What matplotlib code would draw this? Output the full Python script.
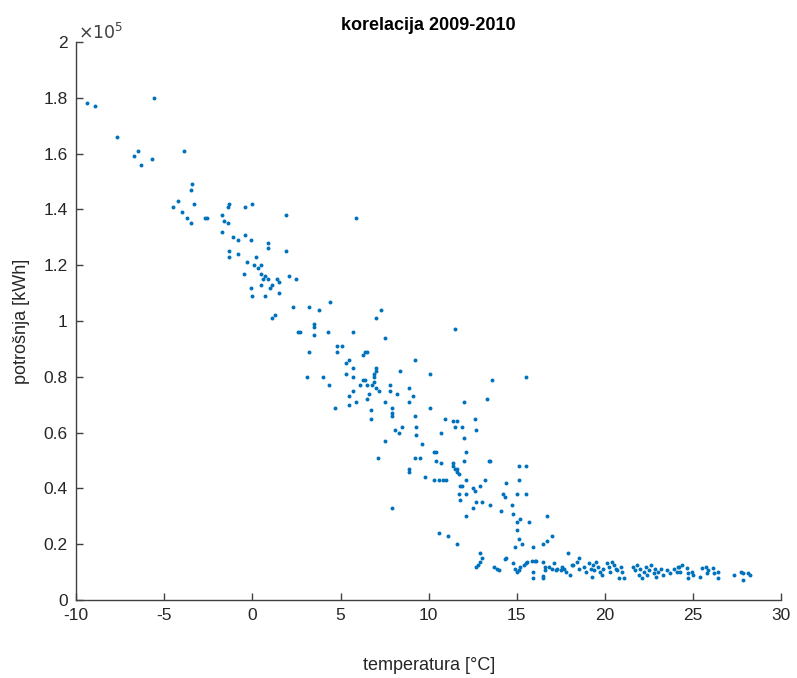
import matplotlib
matplotlib.use("Agg")
import matplotlib.pyplot as plt
from matplotlib.ticker import FuncFormatter, MultipleLocator

# temperature [°C]
temp_cold = [-9.4, -8.9, -5.6, -7.7, -6.5, -6.7, -6.3, -5.7, -3.9,
             -4.5, -4.2, -4.0, -3.7, -3.5, -3.5, -3.4, -3.3, -2.7, -2.6,
             -1.7, -1.6, -1.4, -1.4, -1.3, -0.4, 0.0, 1.9, 5.9,
             -1.7, -1.1, -0.8, -0.4, -0.1, 0.9, 0.9, -1.3, -1.3, -0.8, 0.2, 1.9,
             -0.3, 0.1, 0.3, 0.5, -0.5, 0.5, 0.6, 0.7, 0.9, 2.1, 2.5, 1.5, 1.4, 1.1, 1.0,
             -0.1, 0.5, 1.5, 0.0, 0.7]
cons_cold = [1.78, 1.77, 1.80, 1.66, 1.61, 1.59, 1.56, 1.58, 1.61,
             1.41, 1.43, 1.39, 1.37, 1.35, 1.47, 1.49, 1.42, 1.37, 1.37,
             1.38, 1.36, 1.35, 1.41, 1.42, 1.41, 1.42, 1.38, 1.37,
             1.32, 1.30, 1.29, 1.31, 1.29, 1.28, 1.26, 1.25, 1.23, 1.24, 1.23, 1.25,
             1.21, 1.20, 1.19, 1.20, 1.17, 1.17, 1.15, 1.16, 1.15, 1.16, 1.15, 1.14, 1.15, 1.13, 1.12,
             1.12, 1.13, 1.10, 1.09, 1.09]

temp_mid = [2.3, 3.2, 3.8, 4.4, 1.3, 1.1, 3.5, 3.5, 2.6, 2.7, 3.5, 4.3, 5.7, 7.3, 7.0, 7.5,
            3.2, 4.8, 5.1, 4.8, 6.3, 6.4, 6.5, 5.3, 5.5, 5.7, 5.3, 3.1, 4.0, 5.7, 6.3, 6.4,
            6.9, 7.0, 7.0, 8.4, 9.2, 11.5,
            4.35, 6.9, 6.9, 6.8, 7.0, 6.1, 5.7, 6.5, 6.6, 7.2, 7.8, 7.8, 8.2, 10.1, 8.9, 9.1,
            8.9, 13.6, 15.5,
            5.5, 5.5, 5.9, 6.5, 7.5, 4.7, 6.7, 6.7, 7.9, 7.9, 7.9, 10.1, 12.0, 13.3, 9.2,
            10.9, 11.4, 11.6, 11.5, 11.9, 12.6, 12.7,
            8.1, 8.3, 8.5, 9.3, 9.3, 10.7, 12.0, 7.5, 9.6, 12.1, 10.3, 10.4, 7.1, 9.2, 9.5,
            10.4, 10.7,
            11.4, 11.4, 11.5, 11.6, 11.6, 11.7, 12.0, 13.4, 13.5, 8.9, 8.9, 9.8, 10.3, 10.6,
            10.8, 11.0, 12.1, 13.2, 15.1, 15.5, 14.4, 15.1,
            11.8, 11.9, 11.7, 12.1, 12.5, 12.6, 12.9, 14.2, 14.3, 15.0, 15.5,
            11.8, 13.0, 12.7, 12.5, 13.5, 12.1, 14.1, 14.7, 14.8, 15.2, 15.0, 15.7, 16.7,
            15.0, 15.1, 15.3, 14.9, 15.9, 16.5, 16.7, 17.0, 10.6, 11.1, 11.6, 17.9, 7.9]
cons_mid = [1.05, 1.05, 1.04, 1.07, 1.02, 1.01, 0.99, 0.98, 0.96, 0.96, 0.95, 0.96, 0.96, 1.04, 1.01, 0.94,
            0.89, 0.91, 0.91, 0.89, 0.88, 0.89, 0.89, 0.85, 0.86, 0.83, 0.81, 0.80, 0.80, 0.80, 0.79, 0.79,
            0.81, 0.82, 0.83, 0.82, 0.86, 0.97,
            0.77, 0.80, 0.78, 0.77, 0.76, 0.77, 0.75, 0.77, 0.74, 0.75, 0.77, 0.75, 0.74, 0.81, 0.76, 0.73,
            0.71, 0.79, 0.80,
            0.73, 0.70, 0.71, 0.72, 0.71, 0.69, 0.68, 0.65, 0.69, 0.67, 0.66, 0.69, 0.71, 0.72, 0.66,
            0.65, 0.64, 0.64, 0.62, 0.62, 0.65, 0.61,
            0.61, 0.60, 0.62, 0.62, 0.59, 0.60, 0.58, 0.57, 0.56, 0.53, 0.53, 0.53, 0.51, 0.51, 0.51,
            0.50, 0.49,
            0.49, 0.48, 0.47, 0.46, 0.47, 0.45, 0.50, 0.50, 0.50, 0.47, 0.46, 0.44, 0.43, 0.43,
            0.43, 0.43, 0.43, 0.43, 0.48, 0.48, 0.42, 0.43,
            0.41, 0.41, 0.38, 0.38, 0.40, 0.39, 0.41, 0.38, 0.37, 0.38, 0.38,
            0.36, 0.35, 0.35, 0.33, 0.34, 0.30, 0.32, 0.34, 0.31, 0.29, 0.28, 0.28, 0.30,
            0.25, 0.22, 0.20, 0.19, 0.19, 0.20, 0.21, 0.23, 0.24, 0.23, 0.20, 0.17, 0.33]

temp_warm = [12.9, 13.0, 12.9, 12.8, 12.7, 13.7, 13.9, 14.0, 14.3, 14.4, 14.8, 14.9, 15.0, 15.1,
             15.2, 15.4, 15.5, 15.6, 15.85, 16.0, 16.1, 15.9, 15.9, 16.5, 16.6, 16.6, 16.5, 16.5,
             16.8, 17.0, 17.1, 17.2, 17.3, 17.5, 17.55, 17.7, 17.8, 18.0, 18.1, 18.5,
             18.2, 18.4, 18.5, 18.8, 18.9, 19.1, 19.2, 19.25, 19.3, 19.4, 19.5, 19.6, 19.7, 19.8,
             19.9, 20.1, 20.2, 20.3, 20.4, 20.5, 20.6, 20.7, 20.8, 20.9, 20.95, 21.05,
             21.6, 21.7, 21.8, 21.9, 22.0, 22.1, 22.2, 22.3, 22.4, 22.5, 22.6, 22.75, 22.85,
             22.9, 23.0, 23.2, 23.3, 23.5, 23.7, 23.9, 24.1, 24.2,
             24.15, 24.37, 24.26, 24.66, 24.71, 24.71, 24.94, 25.0, 25.4, 25.5, 25.7, 25.8,
             25.85, 26.1, 26.2, 26.4, 26.4, 27.3, 27.7, 27.8, 27.8, 28.1, 28.2]
cons_warm = [0.167, 0.149, 0.137, 0.125, 0.119, 0.119, 0.113, 0.107, 0.147, 0.152, 0.131, 0.113,
             0.101, 0.107, 0.119, 0.125, 0.131, 0.137, 0.14, 0.14, 0.14, 0.101, 0.078, 0.137,
             0.119, 0.107, 0.078, 0.087, 0.119, 0.113, 0.131, 0.107, 0.113, 0.107, 0.119, 0.113,
             0.101, 0.090, 0.125, 0.150,
             0.125, 0.137, 0.113, 0.119, 0.101, 0.131, 0.113, 0.084, 0.125, 0.107, 0.137, 0.119,
             0.101, 0.090, 0.113, 0.131, 0.119, 0.101, 0.137, 0.125, 0.113, 0.107, 0.078, 0.119,
             0.101, 0.078,
             0.119, 0.107, 0.125, 0.090, 0.113, 0.078, 0.101, 0.119, 0.090, 0.107, 0.125, 0.096,
             0.113, 0.084, 0.101, 0.113, 0.090, 0.107, 0.096, 0.113, 0.101, 0.119,
             0.118, 0.125, 0.100, 0.115, 0.097, 0.079, 0.100, 0.090, 0.082, 0.115, 0.118, 0.097,
             0.107, 0.115, 0.097, 0.079, 0.100, 0.090, 0.100, 0.097, 0.072, 0.097, 0.090]

x_ticks = [-10, -5, 0, 5, 10, 15, 20, 25, 30]

temps = temp_cold + temp_mid + temp_warm
cons = [v * 1e5 for v in (cons_cold + cons_mid + cons_warm)]

plt.rcParams['font.family'] = ['Liberation Sans', 'DejaVu Sans']
plt.rcParams['axes.unicode_minus'] = False
fig = plt.figure(figsize=(7.97, 6.78), dpi=100)
ax = fig.add_axes([0.0954, 0.115, 0.885, 0.823])

ax.scatter(temps, cons, s=8, color='#0072BD', linewidths=0)

ax.set_xlim(-10, 30)
ax.set_ylim(0, 2e5)
ax.set_xticks(x_ticks)
ax.yaxis.set_major_locator(MultipleLocator(0.2e5))
ax.yaxis.set_major_formatter(FuncFormatter(lambda v, p: f"{v/1e5:g}"))

axcol = '#404040'
for s in ['top', 'right']:
    ax.spines[s].set_visible(False)
for s in ['left', 'bottom']:
    ax.spines[s].set_color(axcol)
    ax.spines[s].set_linewidth(1.0)
ax.tick_params(direction='in', length=5, width=1.0, colors=axcol, labelsize=12.5,
               labelcolor='#262626', pad=6)

ax.set_title('korelacija 2009-2010', fontsize=13, fontweight='bold', pad=9, color='black')
ax.set_xlabel('temperatura [°C]', fontsize=13, color='#262626', labelpad=24)
ax.set_ylabel('potrošnja [kWh]', fontsize=13, color='#262626', labelpad=10)
ax.text(0.003, 1.0, r'$\times10^{5}$', transform=ax.transAxes, fontsize=12.5,
        color='#404040', ha='left', va='bottom', family='Liberation Sans')

fig.savefig('out.png', dpi=100)
